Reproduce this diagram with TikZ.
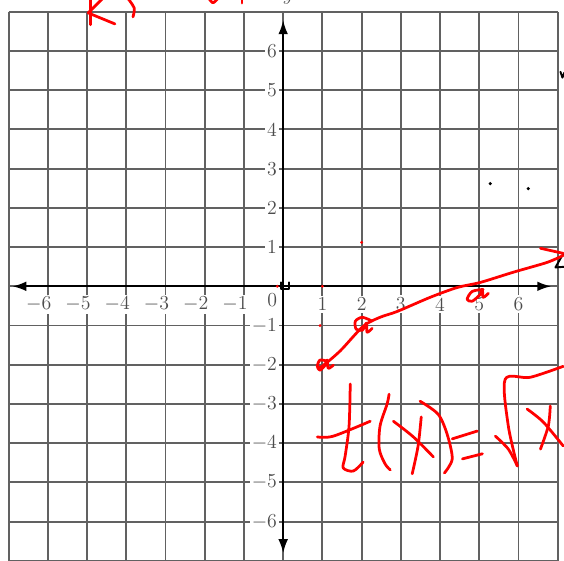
\documentclass[tikz,border=0pt]{standalone}
\usepackage{tikz}
\usetikzlibrary{arrows.meta}
\tikzset{
  gridline/.style={black!62, line width=1.4pt},
  axisline/.style={black, line width=1.2pt, {Latex[length=10pt,width=7pt]}-{Latex[length=10pt,width=7pt]}},
  ticklabel/.style={fill=white, inner sep=1.5pt, text=black!70, font=\Large},
  ink/.style={red, line width=2pt, line cap=round, line join=round},
  pen/.style={black, line width=1.4pt, line cap=round, line join=round},
}
\begin{document}
\begin{tikzpicture}[scale=1.0]
\useasboundingbox (-7.22,-7.0) rectangle (7.16,7.30);
% grid and axes
\foreach \k in {-7,...,7} {
  \draw[gridline] (\k,-7) -- (\k,7);
  \draw[gridline] (-7,\k) -- (7,\k);
}
\coordinate (W) at (-6.9,0);
\coordinate (E) at (6.83,0);
\coordinate (S) at (0,-6.8);
\coordinate (N) at (0,6.78);
\draw[axisline] (W) -- (E);
\draw[axisline] (S) -- (N);
\foreach \i in {1,...,6} {
  \node[ticklabel] (xp\i) at (\i,-0.46) {\i};
  \node[ticklabel, anchor=east] (xn\i) at (-\i+0.15,-0.46) {$-\i$};
  \node[ticklabel, anchor=east] (yp\i) at (-0.1,\i) {\i};
  \node[ticklabel, anchor=east] (yn\i) at (-0.1,-\i) {$-\i$};
}
\node[ticklabel] (zero) at (-0.28,-0.36) {0};
\node[text=black!70, font=\Large, anchor=base] (ylab) at (0.12,7.28) {$y$};
% marks in black
\draw[pen] (-0.05,0.10) -- (-0.05,-0.08) -- (0.15,-0.08) -- (0.15,0.10);
\draw[pen] (7.14,0.83) -- (6.94,0.48) -- (7.19,0.50);
\draw[pen] (7.07,5.47) -- (7.12,5.32) -- (7.17,5.45);
\fill (5.28,2.62) circle (0.045);
\fill (6.25,2.49) circle (0.045);
% red dots
\fill[red] (-0.15,0) circle (0.04);
\fill[red] (1,0) circle (0.04);
\fill[red] (0.94,-1) circle (0.04);
\fill[red] (2.0,1.12) circle (0.04);
% red writing at the top
\draw[ink] (-4.92,7.35) -- (-4.92,6.67);
\draw[ink] (-4.59,7.35) -- (-4.97,6.97) -- (-4.29,6.69);
\draw[ink] plot[smooth] coordinates {(-3.99,7.38) (-3.80,7.10) (-3.83,6.87)};
\draw[ink] plot[smooth] coordinates {(-1.88,7.32) (-1.79,7.23) (-1.68,7.32)};
\draw[ink] (-1.05,7.34) -- (-1.05,7.22);
% the curve
\draw[ink] plot[smooth] coordinates {(0.89,-2.06) (0.99,-2.04) (1.45,-1.65) (2.04,-1.02) (2.47,-0.79)
  (2.91,-0.64) (3.75,-0.28) (4.44,-0.03) (5.03,0.10) (5.87,0.36) (6.73,0.61) (7.14,0.79)};
\draw[ink] (6.56,0.97) -- (7.14,0.84);
\draw[ink] plot[smooth] coordinates {(1.12,-1.91) (0.94,-1.88) (0.87,-2.04) (0.94,-2.14) (1.07,-2.01)
  (1.12,-1.88) (1.15,-2.09) (1.28,-2.01)};
\draw[ink] plot[smooth] coordinates {(2.27,-0.89) (2.02,-0.79) (1.84,-0.89) (1.86,-1.09) (2.02,-1.12)
  (2.12,-0.94) (2.14,-1.17) (2.27,-1.07)};
\draw[ink] plot[smooth] coordinates {(5.10,-0.08) (4.82,-0.13) (4.69,-0.33) (4.82,-0.38) (5.03,-0.20)
  (5.08,-0.08) (5.10,-0.28) (5.23,-0.18)};
% f(x) = sqrt x
\draw[ink] plot[smooth] coordinates {(0.87,-3.84) (1.28,-3.82) (2.22,-3.44)};
\draw[ink] plot[smooth] coordinates {(1.71,-2.49) (1.68,-3.56) (1.58,-4.33) (1.53,-4.63) (1.79,-4.71) (2.04,-4.48)};
\draw[ink] plot[smooth] coordinates {(2.70,-2.75) (2.65,-3.00) (2.47,-3.56) (2.45,-4.15) (2.60,-4.53) (2.73,-4.68)};
\draw[ink] plot[smooth] coordinates {(2.81,-3.44) (3.32,-3.84) (3.83,-4.35)};
\draw[ink] plot[smooth] coordinates {(3.52,-3.33) (3.44,-4.07) (3.29,-4.78)};
\draw[ink] plot[smooth] coordinates {(3.49,-2.93) (3.95,-3.26) (4.18,-3.77) (4.31,-4.40) (4.11,-4.76)};
\draw[ink] (4.31,-3.89) -- (4.95,-3.69);
\draw[ink] (4.57,-4.40) -- (5.08,-4.27);
\draw[ink] plot[smooth] coordinates {(5.41,-3.82) (5.74,-4.15) (5.97,-4.58)};
\draw[ink] plot[smooth] coordinates {(5.97,-4.58) (5.74,-3.56) (5.66,-2.37) (6.30,-2.32) (7.14,-2.04)};
\draw[ink] plot[smooth] coordinates {(6.22,-3.13) (6.63,-3.46) (7.14,-4.07)};
\draw[ink] plot[smooth] coordinates {(6.81,-3.05) (6.76,-3.56) (6.56,-4.15)};
\end{tikzpicture}
\end{document}
